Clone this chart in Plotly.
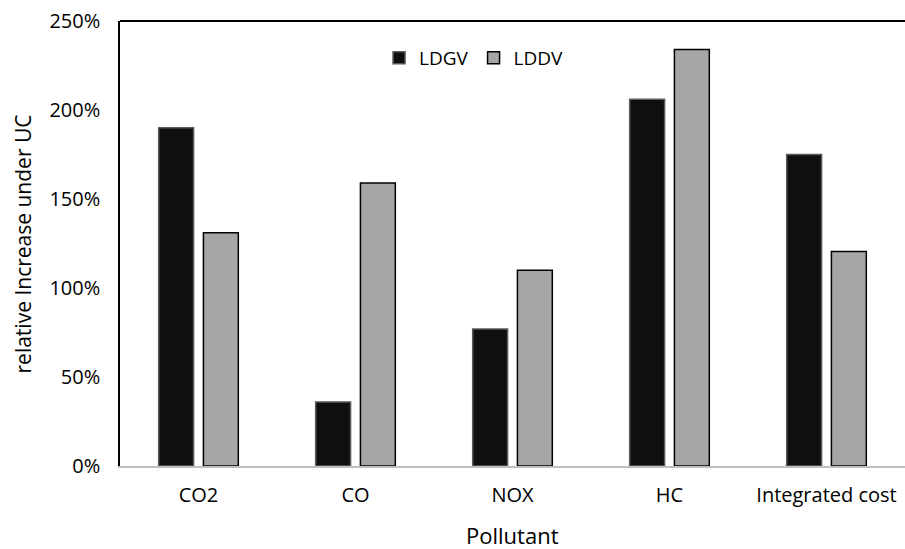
import plotly.graph_objects as go

categories = ["CO2", "CO", "NOX", "HC", "Integrated cost"]
ldgv = [1.90, 0.36, 0.77, 2.06, 1.75]
lddv = [1.31, 1.59, 1.10, 2.34, 1.205]
y_ticks = [0, 0.5, 1.0, 1.5, 2.0, 2.5]
y_tick_labels = ["0%", "50%", "100%", "150%", "200%", "250%"]

FONT = "Open Sans"

fig = go.Figure()
fig.add_trace(go.Bar(name="LDGV", x=categories, y=ldgv,
                     marker=dict(color="#0f0f0f", line=dict(color="#5a5a5a", width=1.5))))
fig.add_trace(go.Bar(name="LDDV", x=categories, y=lddv,
                     marker=dict(color="#a6a6a6", line=dict(color="#000000", width=1.5))))

fig.update_layout(
    width=905, height=549,
    margin=dict(l=120, r=0, t=21, b=83),
    paper_bgcolor="white", plot_bgcolor="white",
    barmode="group", bargap=0.43, bargroupgap=0.22,
    font=dict(family=FONT, size=20, color="#000000"),
    showlegend=True,
    legend=dict(orientation="h", x=0.33, y=0.96, xanchor="left", yanchor="top",
                font=dict(size=19), itemwidth=30, bgcolor="rgba(0,0,0,0)",
                tracegroupgap=0),
    xaxis=dict(showline=True, linecolor="#bfbfbf", linewidth=1.5, ticks="",
               showgrid=False, tickfont=dict(size=20), ticklabelstandoff=10),
    yaxis=dict(range=[0, 2.5], tickvals=y_ticks, ticktext=y_tick_labels,
               showline=True, linecolor="#000000", linewidth=1.5, ticks="",
               showgrid=False, zeroline=False, tickfont=dict(size=20),
               ticklabelstandoff=14),
)

fig.add_shape(type="line", xref="paper", yref="paper", x0=0, x1=1, y0=1, y1=1,
              line=dict(color="#000000", width=2))

fig.add_annotation(text="relative Increase under UC", xref="paper", yref="paper",
                   x=-0.1236, y=0.5, textangle=-90, showarrow=False,
                   xanchor="center", yanchor="middle", font=dict(size=21))
fig.add_annotation(text="Pollutant", xref="paper", yref="paper",
                   x=0.5, y=-0.155, showarrow=False,
                   xanchor="center", yanchor="middle", font=dict(size=22))

fig.write_html("out.html")
